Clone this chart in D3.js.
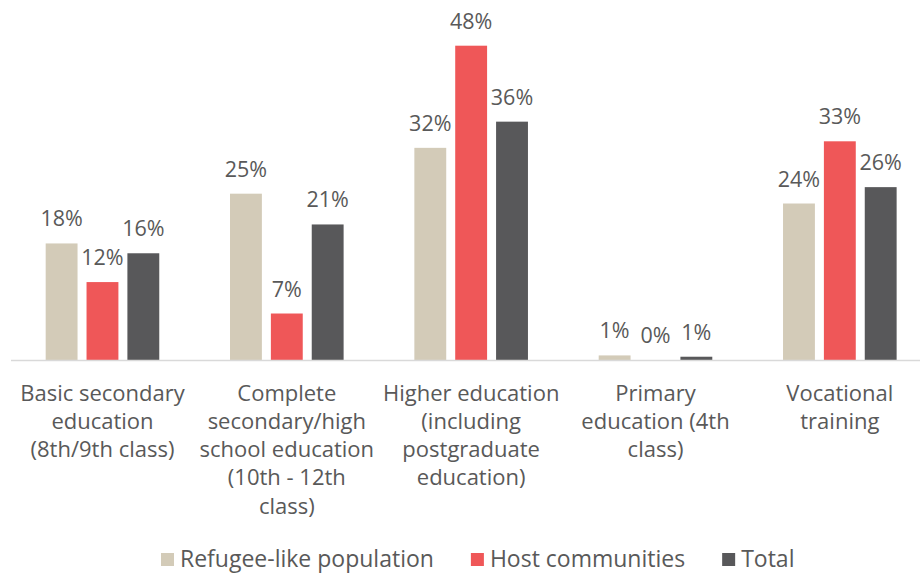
<!DOCTYPE html>
<html>
<head>
<meta charset="utf-8">
<script src="https://cdn.jsdelivr.net/npm/d3@7"></script>
<style>
  body { margin: 0; background: #fff; }
  text { font-family: "Open Sans", "Noto Sans", sans-serif; fill: #595959; }
</style>
</head>
<body>
<script>
var categories = ["Basic secondary education (8th/9th class)",
  "Complete secondary/high school education (10th - 12th class)",
  "Higher education (including postgraduate education)",
  "Primary education (4th class)",
  "Vocational training"];

// wrapped tick labels, as printed under the axis
var tickLines = [
  ["Basic secondary", "education", "(8th/9th class)"],
  ["Complete", "secondary/high", "school education", "(10th - 12th", "class)"],
  ["Higher education", "(including", "postgraduate", "education)"],
  ["Primary", "education (4th", "class)"],
  ["Vocational", "training"]
];

var seriesNames = ["Refugee-like population", "Host communities", "Total"];
var refugee = [17.8, 25.4, 32.4, 0.7, 23.9];
var host    = [11.9, 7.1, 48.0, 0.0, 33.4];
var total   = [16.3, 20.7, 36.4, 0.5, 26.4];
var colors  = ["#d3cbb8", "#ef5758", "#58585a"];

var width = 920, height = 574;
var baseY = 360;

var svg = d3.select("body").append("svg")
    .attr("width", width)
    .attr("height", height);

var series = [refugee, host, total];
var data = categories.map(function(c, i) {
  return { cat: c, vals: series.map(function(s, j) { return { key: seriesNames[j], v: s[i], j: j }; }) };
});

// set the ranges
var x0 = d3.scaleBand().domain(categories).range([10.3, 932]).paddingInner(0).paddingOuter(0);
var x1 = d3.scaleBand().domain(seriesNames).range([0, 113.6]).paddingInner(0.22);
var y = d3.scaleLinear().domain([0, 48]).range([baseY, 45.7]);

var groups = svg.selectAll("g.grp")
    .data(data)
  .enter().append("g")
    .attr("class", "grp")
    .attr("transform", function(d) {
      return "translate(" + (x0(d.cat) + (x0.bandwidth() - 113.6) / 2) + ",0)";
    });

groups.selectAll("rect")
    .data(function(d) { return d.vals; })
  .enter().append("rect")
    .attr("x", function(d) { return x1(d.key); })
    .attr("width", x1.bandwidth())
    .attr("y", function(d) { return y(d.v); })
    .attr("height", function(d) { return baseY - y(d.v); })
    .attr("fill", function(d) { return colors[d.j]; });

groups.selectAll("text.lbl")
    .data(function(d) { return d.vals; })
  .enter().append("text")
    .attr("class", "lbl")
    .attr("x", function(d) { return x1(d.key) + x1.bandwidth() / 2; })
    .attr("y", function(d) { return y(d.v) - 17; })
    .attr("text-anchor", "middle")
    .style("font-size", "21.5px")
    .text(function(d) { return Math.round(d.v) + "%"; });

// axis line
svg.append("line")
    .attr("x1", 11).attr("x2", 920)
    .attr("y1", baseY + 0.5).attr("y2", baseY + 0.5)
    .attr("stroke", "#d9d9d9")
    .attr("stroke-width", 1.5);

// category labels
var xAxis = d3.axisBottom(x0).tickSize(0).tickFormat("");
var ax = svg.append("g")
    .attr("transform", "translate(0," + baseY + ")")
    .call(xAxis);
ax.select(".domain").remove();

ax.selectAll(".tick").each(function(d, i) {
  var t = d3.select(this).append("text")
      .attr("text-anchor", "middle")
      .style("font-size", "22px");
  tickLines[i].forEach(function(line, k) {
    t.append("tspan")
        .attr("x", 0)
        .attr("y", 40.5 + k * 28.3)
        .text(line);
  });
});

// legend
var legend = svg.append("g").attr("transform", "translate(161,0)");
var lx = 0;
seriesNames.forEach(function(name, i) {
  legend.append("rect")
      .attr("x", lx).attr("y", 553)
      .attr("width", 13).attr("height", 13)
      .attr("fill", colors[i]);
  var t = legend.append("text")
      .attr("x", lx + 19).attr("y", 566.5)
      .style("font-size", "23px")
      .text(name);
  lx += 19 + t.node().getComputedTextLength() + 37;
});
</script>
</body>
</html>
